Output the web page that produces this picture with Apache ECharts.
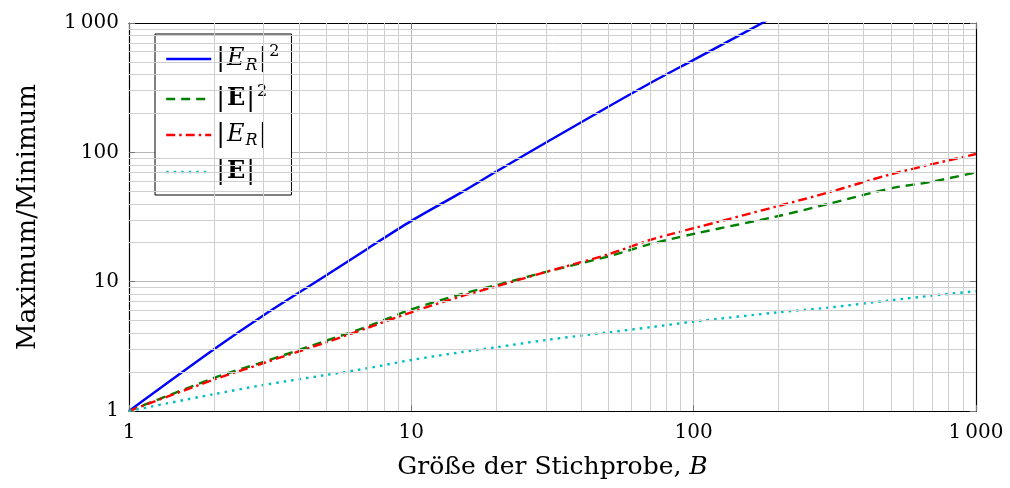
<!DOCTYPE html>
<html>
<head>
<meta charset="utf-8">
<title>Maximum/Minimum</title>
<script src="https://cdn.jsdelivr.net/npm/echarts@6/dist/echarts.min.js"></script>
<style>
  html, body { margin: 0; padding: 0; background: #fff; }
  #chart { width: 1010px; height: 488px; }
</style>
</head>
<body>
<div id="chart"></div>
<script>
// Stichprobengrößen B (x)
var sizes = [1, 2, 3, 5, 7, 10, 15, 20, 30, 50, 70, 100, 200, 300, 500, 700, 1000];
// |E_R|^2 (endet oben am Rand, danach null)
var erSquared = [1, 3.0, 5.5, 11.2, 18.0, 29.5, 48.8, 71, 119, 226, 342, 519, 1170, null, null, null, null];
// |E|^2
var eSquared = [1, 1.8, 2.4, 3.5, 4.5, 6.1, 8.0, 9.4, 11.9, 15.7, 19.5, 23.4, 32.2, 39.9, 52.7, 59.3, 70];
// |E_R|
var erAbs = [1, 1.75, 2.35, 3.4, 4.4, 5.8, 7.7, 9.2, 11.9, 16.3, 21.0, 25.9, 38.5, 49, 67.7, 81, 97];
// |E|
var eAbs = [1, 1.35, 1.59, 1.9, 2.14, 2.48, 2.85, 3.11, 3.54, 4.06, 4.44, 4.91, 5.8, 6.3, 7.18, 7.8, 8.43];
// Achsenbeschriftungen
var tickLabels = { 1: '1', 10: '10', 100: '100', 1000: '1\u2009000' };
// Nebengitter 2..9 je Dekade
var minorValues = [2, 3, 4, 5, 6, 7, 8, 9, 20, 30, 40, 50, 60, 70, 80, 90, 200, 300, 400, 500, 600, 700, 800, 900];

var serif = 'DejaVu Serif';

function pairs (ys) {
  var out = [];
  for (var i = 0; i < sizes.length; i++) {
    out.push([sizes[i], ys[i]]);
  }
  return out;
}

var legendText = {
  ER2: '|{i|E}{sub|R}|{sup|2}',
  E2: '|{b|E}|{sup|2}',
  ER: '|{i|E}{sub|R}|',
  E: '|{b|E}|'
};

var minorLines = [];
minorValues.forEach(function (v) {
  minorLines.push({ xAxis: v });
  minorLines.push({ yAxis: v });
});

var logAxisBase = {
  type: 'log',
  logBase: 10,
  min: 1,
  max: 1000,
  axisLine: { show: true, lineStyle: { color: '#000', width: 1.2 } },
  axisTick: { show: true, inside: true, length: 6, lineStyle: { color: '#777' } }
};

var charts = echarts.init(document.getElementById('chart'));
charts.setOption({
  animation: false,
  grid: { left: 129, right: 34, top: 23, bottom: 77 },
  legend: {
    left: 155,
    top: 34,
    orient: 'vertical',
    itemWidth: 45,
    itemHeight: 14,
    itemGap: 10,
    padding: [10, 12, 10, 10],
    borderColor: '#000',
    borderWidth: 1,
    backgroundColor: '#fff',
    // Kreissymbol im Legendeneintrag verstecken, nur die Linie bleibt
    itemStyle: { color: 'rgba(0,0,0,0)', borderWidth: 0 },
    lineStyle: { width: 'inherit' },
    data: ['ER2', 'E2', 'ER', 'E'],
    formatter: function (name) { return legendText[name]; },
    textStyle: {
      fontFamily: serif,
      fontSize: 26,
      color: '#000',
      rich: {
        i: { fontFamily: serif, fontSize: 24, fontStyle: 'italic', color: '#000', padding: [0, 1, 0, 2] },
        b: { fontFamily: serif, fontSize: 24, fontWeight: 'bold', color: '#000', padding: [0, 1, 0, 2] },
        sub: { fontFamily: serif, fontSize: 16, fontStyle: 'italic', color: '#000', verticalAlign: 'bottom', padding: [12, 1, 0, 0] },
        sup: { fontFamily: serif, fontSize: 16, color: '#000', verticalAlign: 'top', padding: [0, 0, 14, 2] }
      }
    }
  },
  xAxis: [
    Object.assign({}, logAxisBase, {
      position: 'bottom',
      name: 'Größe der Stichprobe, {i|B}',
      nameLocation: 'middle',
      nameGap: 44,
      nameTextStyle: {
        fontFamily: serif, fontSize: 25, color: '#000',
        rich: { i: { fontFamily: serif, fontSize: 25, fontStyle: 'italic', color: '#000' } }
      },
      axisLabel: {
        margin: 12,
        fontFamily: serif,
        fontSize: 20,
        color: '#000',
        formatter: function (v) { return tickLabels[v] || ''; }
      },
      splitLine: { show: true, lineStyle: { color: '#b8b8b8', width: 1 } }
    }),
    Object.assign({}, logAxisBase, {
      position: 'top',
      axisLabel: { show: false },
      splitLine: { show: false }
    })
  ],
  yAxis: [
    Object.assign({}, logAxisBase, {
      position: 'left',
      name: 'Maximum/Minimum',
      nameLocation: 'middle',
      nameGap: 88,
      nameRotate: 90,
      nameTextStyle: { fontFamily: serif, fontSize: 26, color: '#000' },
      axisLabel: {
        margin: 10,
        fontFamily: serif,
        fontSize: 20,
        color: '#000',
        formatter: function (v) { return tickLabels[v] || ''; }
      },
      splitLine: { show: true, lineStyle: { color: '#b8b8b8', width: 1 } }
    }),
    Object.assign({}, logAxisBase, {
      position: 'right',
      axisLabel: { show: false },
      splitLine: { show: false }
    })
  ],
  series: [
    {
      // Nebengitter als markLine auf einer leeren Serie
      name: 'minor',
      type: 'line',
      data: [],
      silent: true,
      markLine: {
        silent: true,
        symbol: 'none',
        label: { show: false },
        lineStyle: { color: '#cfcfcf', width: 1, type: 'solid' },
        data: minorLines
      }
    },
    {
      name: 'ER2',
      type: 'line',
      data: pairs(erSquared),
      symbol: 'none',
      smooth: 0.3,
      clip: true,
      lineStyle: { color: '#0000ff', width: 2.4, type: 'solid' },
      itemStyle: { color: '#0000ff' }
    },
    {
      name: 'E2',
      type: 'line',
      data: pairs(eSquared),
      symbol: 'none',
      smooth: 0.3,
      lineStyle: { color: '#008000', width: 2.4, type: [9, 6] },
      itemStyle: { color: '#008000' }
    },
    {
      name: 'ER',
      type: 'line',
      data: pairs(erAbs),
      symbol: 'none',
      smooth: 0.3,
      lineStyle: { color: '#ff0000', width: 2.4, type: [9, 4, 2.5, 4] },
      itemStyle: { color: '#ff0000' }
    },
    {
      name: 'E',
      type: 'line',
      data: pairs(eAbs),
      symbol: 'none',
      smooth: 0.3,
      lineStyle: { color: '#00bfbf', width: 2.4, type: [2.5, 5] },
      itemStyle: { color: '#00bfbf' }
    }
  ]
});

window.onresize = function () {
  charts.resize();
};
</script>
</body>
</html>
